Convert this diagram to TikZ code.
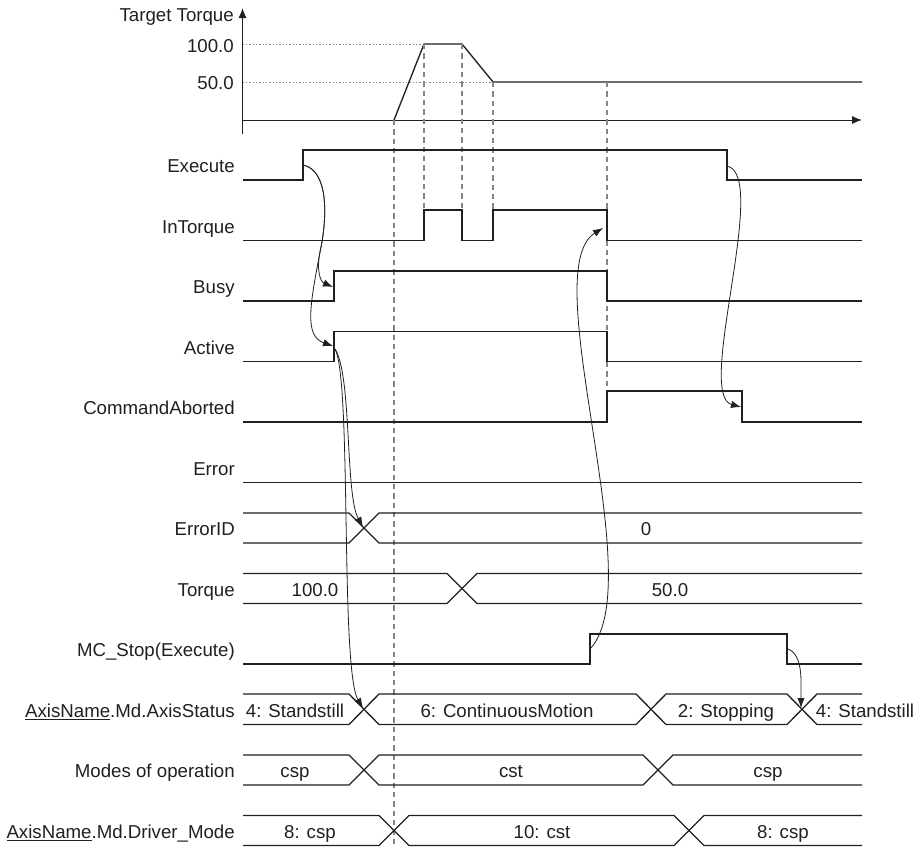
\documentclass[tikz,border=0pt]{standalone}
\usepackage{fontspec}
\setmainfont{Liberation Sans}
\usepackage{tikz}
\usetikzlibrary{positioning,arrows.meta}
\definecolor{ink}  {HTML}{231F20}
\definecolor{guide}{HTML}{858585}
\tikzset{
  wave/.style={draw=ink,line width=1pt,line join=miter},
  siglabel/.style={anchor=base east,inner sep=0pt,text=ink,
                   font=\fontsize{14}{16}\selectfont},
  busval/.style={anchor=base,inner sep=0pt,text=ink,
                 font=\fontsize{14}{16}\selectfont},
  guideline/.style={draw=guide,line width=0.9pt,dash pattern=on 4pt off 3pt},
  levelline/.style={draw=guide,line width=0.7pt,dash pattern=on 1pt off 1.5pt},
  axisline/.style={-{Latex[length=7.5pt,width=6pt]},draw=ink,line width=0.7pt},
  cause/.style={-{Latex[length=7.5pt,width=5.5pt]},draw=ink,line width=0.6pt}
}

\begin{document}
\begin{tikzpicture}[x=0.75pt,y=-0.75pt]
  \useasboundingbox (0,0) rectangle (916,847);

  % target torque chart
  \draw[axisline] (242.5,134) -- (242.5,8);
  \draw[axisline] (242.5,120) -- (862,120);
  \node[siglabel] (tqname) at (234,21.5) {Target Torque};
  \node[siglabel] (tq100) at (234,52.7) {100.0};
  \node[siglabel] (tq50) at (234,89.3) {50.0};
  \draw[levelline] (242.5,44) -- (424,44);
  \draw[levelline] (242.5,82) -- (493,82);
  \draw[wave] (394,120) -- (424,44) -- (462,44) -- (493,82) -- (862,82);

  % timing guides
  \draw[guideline] (394,120) -- (394,846);
  \foreach \gx in {424,462} \draw[guideline] (\gx,44) -- (\gx,210);
  \draw[guideline] (493,82) -- (493,210);
  \draw[guideline] (607,82) -- (607,391);

  % signal names, one row every 60.5px
  \foreach \name [count=\i from 0] in {Execute,InTorque,Busy,Active,
      CommandAborted,Error,ErrorID,Torque,MC\_Stop(Execute),
      {\underline{AxisName}.Md.AxisStatus},Modes of operation,
      {\underline{AxisName}.Md.Driver\_Mode}}
    \node[siglabel] (sig\i) at (235,172.5+60.5*\i) {\name};

  % bit signals
  \draw[wave] (243,180) -- (303,180) -- (303,150) -- (727,150) -- (727,180) -- (862,180);
  \draw[wave] (243,240.5) -- (424,240.5) -- (424,210) -- (462,210) -- (462,240.5)
              -- (493,240.5) -- (493,210) -- (607,210) -- (607,240.5) -- (862,240.5);
  \draw[wave] (243,301) -- (334,301) -- (334,271) -- (607,271) -- (607,301) -- (862,301);
  \draw[wave] (243,361.5) -- (334,361.5) -- (334,331.5) -- (607,331.5) -- (607,361.5) -- (862,361.5);
  \draw[wave] (243,422) -- (607,422) -- (607,391) -- (742,391) -- (742,422) -- (862,422);
  \draw[wave] (243,482.5) -- (862,482.5);
  \draw[wave] (243,664) -- (590,664) -- (590,634) -- (787,634) -- (787,664) -- (862,664);

  % ErrorID
  \draw[wave] (243,513) -- (349,513) -- (379,543) -- (862,543);
  \draw[wave] (243,543) -- (349,543) -- (379,513) -- (862,513);
  \node[busval] (errval) at (646,535.5) {0};

  % Torque
  \draw[wave] (243,573.5) -- (447,573.5) -- (477,603.5) -- (862,603.5);
  \draw[wave] (243,603.5) -- (447,603.5) -- (477,573.5) -- (862,573.5);
  \node[busval] (tqold) at (315,596) {100.0};
  \node[busval] (tqnew) at (670,596) {50.0};

  % AxisStatus
  \draw[wave] (243,694) -- (349,694) -- (379,724.5) -- (636,724.5) -- (666,694)
              -- (787,694) -- (817,724.5) -- (862,724.5);
  \draw[wave] (243,724.5) -- (349,724.5) -- (379,694) -- (636,694) -- (666,724.5)
              -- (787,724.5) -- (817,694) -- (862,694);
  \node[busval] (st1) at (295,717) {4: Standstill};
  \node[busval] (st2) at (507,717) {6: ContinuousMotion};
  \node[busval] (st3) at (726,717) {2: Stopping};
  \node[busval] (st4) at (865,717) {4: Standstill};

  % Modes of operation
  \draw[wave] (243,755) -- (349,755) -- (379,785) -- (643,785) -- (673,755) -- (862,755);
  \draw[wave] (243,785) -- (349,785) -- (379,755) -- (643,755) -- (673,785) -- (862,785);
  \node[busval] (md1) at (295,777.5) {csp};
  \node[busval] (md2) at (511,777.5) {cst};
  \node[busval] (md3) at (768,777.5) {csp};

  % Driver_Mode
  \draw[wave] (243,815.5) -- (379,815.5) -- (409,845.5) -- (674,845.5) -- (704,815.5) -- (862,815.5);
  \draw[wave] (243,845.5) -- (379,845.5) -- (409,815.5) -- (674,815.5) -- (704,845.5) -- (862,845.5);
  \node[busval] (dm1) at (310,838) {8: csp};
  \node[busval] (dm2) at (542,838) {10: cst};
  \node[busval] (dm3) at (783,838) {8: csp};

  % cause and effect
  \coordinate (exeUp) at (303,165);
  \coordinate (exeBend) at (320,252);
  \coordinate (busyUp) at (333,287);
  \coordinate (actUp) at (333,346);
  \coordinate (actFrom) at (335,349);
  \coordinate (errX) at (363,527);
  \coordinate (stsX1) at (363,708);
  \coordinate (stopUp) at (591,648);
  \coordinate (inTqDown) at (603,228);
  \coordinate (exeDown) at (727,166);
  \coordinate (abortDown) at (741,407);
  \coordinate (stopDown) at (788,649);
  \coordinate (stsX3) at (801,708);
  \draw[cause] (exeUp) .. controls (328,170) and (328,215) .. (exeBend)
               .. controls (316,272) and (321,282) .. (busyUp);
  \draw[cause] (exeUp) .. controls (328,170) and (328,215) .. (exeBend)
               .. controls (310,305) and (304,336) .. (actUp);
  \draw[cause] (actFrom) .. controls (352,375) and (345,495) .. (errX);
  \draw[cause] (actFrom) .. controls (352,380) and (340,670) .. (stsX1);
  \draw[cause] (stopUp) .. controls (650,580) and (535,270) .. (inTqDown);
  \draw[cause] (exeDown) .. controls (770,175) and (695,395) .. (abortDown);
  \draw[cause] (stopDown) .. controls (803,655) and (801,680) .. (stsX3);
\end{tikzpicture}
\end{document}
